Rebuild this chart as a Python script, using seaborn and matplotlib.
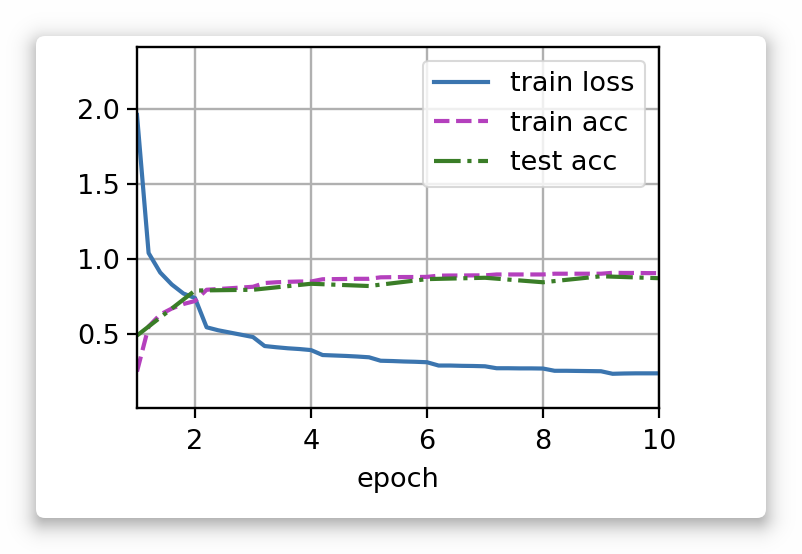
import numpy as np
import pandas as pd
import matplotlib
matplotlib.use("Agg")
import matplotlib.pyplot as plt
from matplotlib.patches import FancyBboxPatch
import seaborn as sns

# ---- data ----
epoch_fine = [1.0, 1.2, 1.4, 1.6, 1.8, 2.0, 2.2, 2.4, 2.6, 2.8, 3.0, 3.2, 3.4, 3.6, 3.8,
              4.0, 4.2, 4.4, 4.6, 4.8, 5.0, 5.2, 5.4, 5.6, 5.8, 6.0, 6.2, 6.4, 6.6, 6.8,
              7.0, 7.2, 7.4, 7.6, 7.8, 8.0, 8.2, 8.4, 8.6, 8.8, 9.0, 9.2, 9.4, 9.6, 9.8, 10.0]
train_loss = [1.96, 1.04, 0.91, 0.83, 0.77, 0.74, 0.545, 0.525, 0.51, 0.495, 0.48,
              0.42, 0.412, 0.405, 0.40, 0.393, 0.36, 0.357, 0.354, 0.35, 0.345,
              0.322, 0.32, 0.317, 0.315, 0.312, 0.29, 0.29, 0.288, 0.287, 0.285,
              0.272, 0.272, 0.271, 0.271, 0.27, 0.255, 0.255, 0.254, 0.253, 0.252,
              0.235, 0.237, 0.238, 0.238, 0.238]
train_acc = [0.25, 0.55, 0.63, 0.67, 0.70, 0.72, 0.795, 0.80, 0.805, 0.81, 0.815,
             0.84, 0.845, 0.848, 0.85, 0.85, 0.865, 0.866, 0.867, 0.868, 0.868,
             0.878, 0.879, 0.88, 0.88, 0.881, 0.889, 0.89, 0.89, 0.891, 0.891,
             0.897, 0.897, 0.897, 0.897, 0.897, 0.902, 0.902, 0.902, 0.902, 0.902,
             0.908, 0.907, 0.907, 0.906, 0.906]
epoch_coarse = [1, 2, 3, 4, 5, 6, 7, 8, 9, 10]
test_acc = [0.49, 0.79, 0.795, 0.835, 0.82, 0.866, 0.875, 0.845, 0.885, 0.872]
x_ticks = [2, 4, 6, 8, 10]
y_ticks = [0.5, 1.0, 1.5, 2.0]

W, H = 802, 554
fig = plt.figure(figsize=(W / 100, H / 100), dpi=100)

# ---- background card with soft drop shadow ----
bg = fig.add_axes([0, 0, 1, 1], zorder=0)
bg.set_xlim(0, W)
bg.set_ylim(H, 0)
bg.axis("off")
cx0, cy0, cx1, cy1, rad = 36, 36, 766, 518, 9
yy, xx = np.mgrid[0:H, 0:W] + 0.5
off = 6
ccx, ccy = (cx0 + cx1) / 2, (cy0 + cy1) / 2 + off
bx, by = (cx1 - cx0) / 2 - rad, (cy1 - cy0) / 2 - rad
qx = np.abs(xx - ccx) - bx
qy = np.abs(yy - ccy) - by
dist = np.hypot(np.maximum(qx, 0), np.maximum(qy, 0)) + np.minimum(np.maximum(qx, qy), 0) - rad
shade = 0.40 * 0.5 * (1 - np.tanh(dist / 13.0))
img = np.clip(1 - shade, 0, 1)
bg.imshow(np.dstack([img, img, img]), extent=[0, W, H, 0], interpolation="bilinear", zorder=0)
card = FancyBboxPatch((cx0, cy0), cx1 - cx0, cy1 - cy0,
                      boxstyle=f"round,pad=0,rounding_size={rad}",
                      facecolor="white", edgecolor="none", zorder=1)
bg.add_patch(card)

# ---- main plot ----
fs = 19.5
ax = fig.add_axes([137 / W, 1 - 408 / H, (659 - 137) / W, (408 - 47) / H], zorder=2)
ax.set_facecolor("white")

df_fine = pd.DataFrame({"epoch": epoch_fine, "train loss": train_loss, "train acc": train_acc})
df_test = pd.DataFrame({"epoch": epoch_coarse, "test acc": test_acc})

lw = 3.0
sns.lineplot(data=df_fine, x="epoch", y="train loss", ax=ax, color="#3b75af",
             linewidth=lw, linestyle="-", label="train loss")
sns.lineplot(data=df_fine, x="epoch", y="train acc", ax=ax, color="#b440bd",
             linewidth=lw, linestyle="--", label="train acc")
sns.lineplot(data=df_test, x="epoch", y="test acc", ax=ax, color="#3a7d27",
             linewidth=lw, linestyle="-.", label="test acc")

ax.set_xlim(1, 10)
ax.set_ylim(0.007, 2.413)
ax.set_xticks(x_ticks)
ax.set_yticks(y_ticks)
ax.set_xlabel("epoch", fontsize=fs, labelpad=9)
ax.set_ylabel("")
ax.tick_params(labelsize=fs, length=7, width=1.6, direction="out", pad=5)
ax.tick_params(axis="x", pad=8)
ax.grid(True, color="#b0b0b0", linewidth=1.7)
for s in ax.spines.values():
    s.set_linewidth(1.7)
    s.set_color("black")
leg = ax.legend(loc="upper right", fontsize=fs, frameon=True, borderaxespad=0.5)
leg.get_frame().set_edgecolor("#d0d0d0")
leg.get_frame().set_linewidth(1.5)

fig.savefig("out.png", dpi=100)
